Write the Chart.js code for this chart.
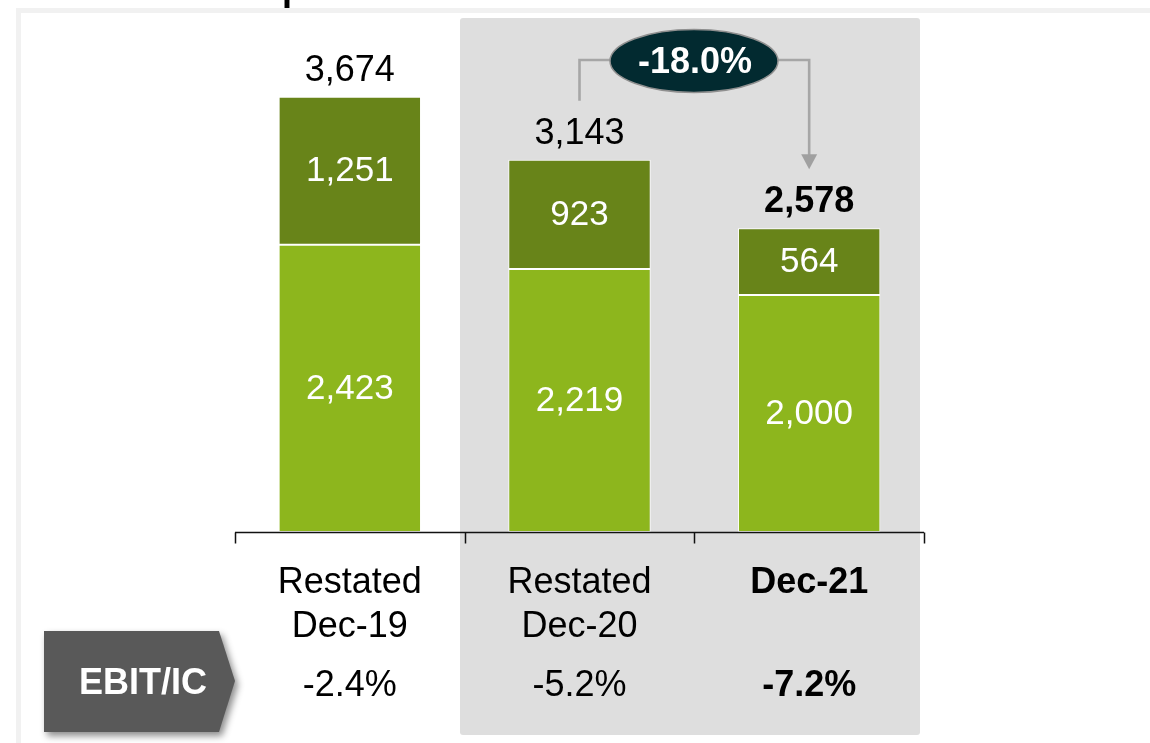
<!DOCTYPE html>
<html>
<head>
<meta charset="utf-8">
<title>Invested Capital</title>
<script src="https://cdn.jsdelivr.net/npm/chart.js@4"></script>
<style>
  html, body { margin: 0; padding: 0; background: #fff; }
  #wrap { position: relative; width: 1150px; height: 743px; overflow: hidden; }
</style>
</head>
<body>
<div id="wrap"><canvas id="icChart" width="1150" height="743"></canvas></div>
<script>
/* ---------- data ---------- */
const categories = [['Restated', 'Dec-19'], ['Restated', 'Dec-20'], ['Dec-21']];
const baseValues = [2423, 2219, 2000];   // lower segment
const topValues  = [1251, 923, 564];     // upper segment
const totalLabels = ['3,674', '3,143', '2,578'];
const ebitIc = ['-2.4%', '-5.2%', '-7.2%'];
const changeLabel = '-18.0%';
const boldIndex = 2;

const FONT = '"Liberation Sans", Arial, Helvetica, sans-serif';
const fmt = v => v.toLocaleString('en-US');

function text(ctx, s, x, y, size, color, bold) {
  ctx.font = (bold ? 'bold ' : '') + size + 'px ' + FONT;
  ctx.fillStyle = color;
  ctx.textAlign = 'center';
  ctx.textBaseline = 'middle';
  ctx.fillText(s, x, y);
}

/* ---------- background frame + highlight panel ---------- */
const decor = {
  id: 'decor',
  beforeDraw(chart) {
    const ctx = chart.ctx;
    ctx.save();
    // heading sits mostly above the canvas
    ctx.font = 'bold 36px ' + FONT;
    ctx.fillStyle = '#000';
    ctx.textAlign = 'left';
    ctx.textBaseline = 'alphabetic';
    ctx.fillText('Invested Capital', 80, 0);

    // light frame (top + left)
    ctx.fillStyle = '#f1f1f1';
    ctx.fillRect(16, 8, 1134, 5);
    ctx.fillRect(16, 8, 5, 735);

    // shaded panel behind the last two years
    ctx.fillStyle = '#dedede';
    ctx.beginPath();
    ctx.roundRect(460, 18, 460, 717, 3);
    ctx.fill();
    ctx.restore();
  },

  afterDatasetsDraw(chart) {
    const ctx = chart.ctx;
    const area = chart.chartArea;
    const xs = chart.scales.x;
    const baseMeta = chart.getDatasetMeta(0);
    const topMeta = chart.getDatasetMeta(1);
    const catW = (area.right - area.left) / categories.length;

    ctx.save();

    // segment labels
    baseMeta.data.forEach((el, i) => {
      text(ctx, fmt(baseValues[i]), el.x, (el.y + el.base) / 2 + 1, 35, '#fff', false);
    });
    topMeta.data.forEach((el, i) => {
      text(ctx, fmt(topValues[i]), el.x, (el.y + el.base) / 2 + 1, 35, '#fff', false);
      text(ctx, totalLabels[i], el.x, el.y - 26, 36, '#000', i === boldIndex);
    });

    // axis line with ticks between categories
    const ay = area.bottom + 0.5;
    ctx.strokeStyle = '#111';
    ctx.lineWidth = 1.5;
    ctx.beginPath();
    ctx.moveTo(area.left, ay);
    ctx.lineTo(area.right, ay);
    for (let i = 0; i <= categories.length; i++) {
      const tx = Math.round(area.left + i * catW) + 0.5;
      ctx.moveTo(tx, ay);
      ctx.lineTo(tx, ay + 11);
    }
    ctx.stroke();

    // category labels and EBIT/IC row
    categories.forEach((lines, i) => {
      const cx = xs.getPixelForValue(i);
      lines.forEach((ln, j) => text(ctx, ln, cx, 583 + j * 44, 36, '#000', i === boldIndex));
      text(ctx, ebitIc[i], cx, 686, 36, '#000', i === boldIndex);
    });

    // EBIT/IC tag
    ctx.save();
    ctx.shadowColor = 'rgba(0,0,0,0.45)';
    ctx.shadowBlur = 7;
    ctx.shadowOffsetX = 3;
    ctx.shadowOffsetY = 4;
    ctx.fillStyle = '#595959';
    ctx.beginPath();
    ctx.moveTo(44, 631);
    ctx.lineTo(219, 631);
    ctx.lineTo(235, 681);
    ctx.lineTo(219, 732);
    ctx.lineTo(44, 732);
    ctx.closePath();
    ctx.fill();
    ctx.restore();
    text(ctx, 'EBIT/IC', 143, 684, 36, '#fff', true);

    // change connector from Dec-20 to Dec-21
    const x1 = topMeta.data[1].x, x2 = topMeta.data[2].x;
    const y1 = topMeta.data[1].y - 59, y2 = topMeta.data[2].y - 59;
    const hy = 60;
    const ex = 694, ey = 61, rx = 84, ry = 31.5;
    ctx.strokeStyle = '#a6a6a6';
    ctx.lineWidth = 2.6;
    ctx.beginPath();
    ctx.moveTo(x1, y1);
    ctx.lineTo(x1, hy);
    ctx.lineTo(ex - rx, hy);
    ctx.moveTo(ex + rx, hy);
    ctx.lineTo(x2, hy);
    ctx.lineTo(x2, y2 - 14);
    ctx.stroke();
    ctx.fillStyle = '#a0a0a0';
    ctx.beginPath();
    ctx.moveTo(x2 - 8, y2 - 15);
    ctx.lineTo(x2 + 8, y2 - 15);
    ctx.lineTo(x2, y2);
    ctx.closePath();
    ctx.fill();

    ctx.fillStyle = '#022a30';
    ctx.strokeStyle = '#8f8f8f';
    ctx.lineWidth = 1.5;
    ctx.beginPath();
    ctx.ellipse(ex, ey, rx, ry, 0, 0, Math.PI * 2);
    ctx.fill();
    ctx.stroke();
    text(ctx, changeLabel, ex + 1, ey + 2, 36, '#fff', true);

    ctx.restore();
  }
};

/* ---------- chart ---------- */
new Chart(document.getElementById('icChart'), {
  type: 'bar',
  data: {
    labels: categories,
    datasets: [
      { data: baseValues, backgroundColor: '#8db61d', borderColor: '#fff', borderWidth: 1, borderSkipped: false },
      { data: topValues, backgroundColor: '#688419', borderColor: '#fff', borderWidth: 1, borderSkipped: false }
    ]
  },
  options: {
    responsive: false,
    animation: false,
    events: [],
    layout: { padding: { left: 235, right: 226, top: 58, bottom: 211 } },
    datasets: { bar: { barPercentage: 0.62, categoryPercentage: 1 } },
    plugins: { legend: { display: false }, tooltip: { enabled: false } },
    scales: {
      x: { display: false, stacked: true },
      y: { display: false, stacked: true, min: 0, max: 4000 }
    }
  },
  plugins: [decor]
});
</script>
</body>
</html>
